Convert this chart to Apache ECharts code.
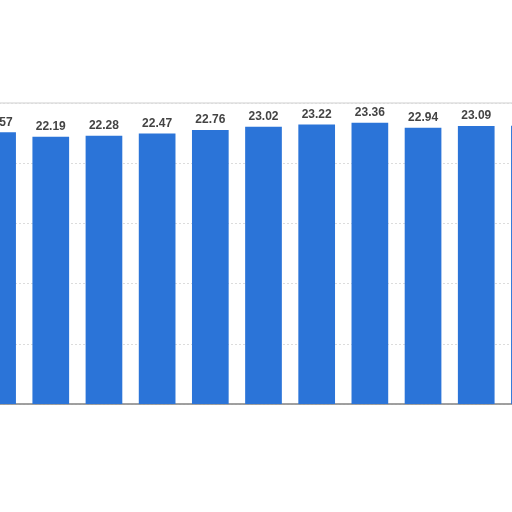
<!DOCTYPE html>
<html>
<head>
<meta charset="utf-8">
<script src="https://cdn.jsdelivr.net/npm/echarts@6/dist/echarts.min.js"></script>
<style>
  html, body { margin: 0; padding: 0; background: #fff; }
  #main { width: 512px; height: 512px; }
</style>
</head>
<body>
<div id="main"></div>
<script>
// categories are cut off / unreadable in the picture, kept as placeholders
var categories = ['2009', '2010', '2011', '2012', '2013', '2014', '2015', '2016', '2017', '2018', '2019'];
var values = [22.57, 22.19, 22.28, 22.47, 22.76, 23.02, 23.22, 23.36, 22.94, 23.09, 23.12];
var yTicks = [0, 5, 10, 15, 20, 25];

var myChart = echarts.init(document.getElementById('main'));

var option = {
    animation: false,
    backgroundColor: '#fff',
    grid: {
        left: -29,
        right: -44,
        top: 103,
        bottom: 108,
        outerBoundsMode: 'none',
        containLabel: false,
        show: true,
        borderColor: '#cfcfcf',
        borderWidth: 1
    },
    xAxis: {
        type: 'category',
        data: categories,
        axisLine: { lineStyle: { color: '#888', width: 1.5 } },
        axisTick: { show: false },
        axisLabel: { show: false }
    },
    yAxis: {
        type: 'value',
        min: yTicks[0],
        max: yTicks[yTicks.length - 1],
        interval: yTicks[1] - yTicks[0],
        axisLine: { show: false },
        axisTick: { show: false },
        axisLabel: { show: false },
        splitLine: { lineStyle: { color: '#dcdcdc', type: [2, 2] } }
    },
    series: [{
        type: 'bar',
        data: values,
        barCategoryGap: '31%',
        itemStyle: { color: '#2B74D8' },
        label: {
            show: true,
            position: 'top',
            distance: 4,
            color: '#444',
            fontFamily: 'Liberation Sans',
            fontWeight: 'bold',
            fontSize: 12,
            formatter: function (p) { return p.value.toFixed(2); }
        }
    }]
};

myChart.setOption(option);
</script>
</body>
</html>
